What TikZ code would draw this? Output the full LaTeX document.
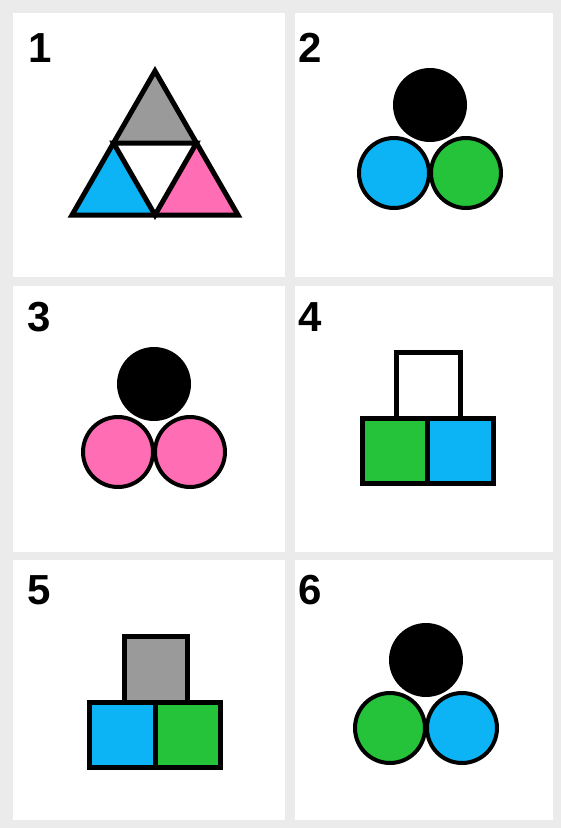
\documentclass[tikz,border=0pt]{standalone}
\usepackage{fontspec}
\setmainfont{Liberation Sans}
\definecolor{figBack}{HTML}{EBEBEB}
\definecolor{figBlue}{HTML}{0DB4F5}
\definecolor{figGreen}{HTML}{24C33A}
\definecolor{figPink}{HTML}{FF6EB4}
\definecolor{figGray}{HTML}{9A9A9A}
\usepackage{tikz}
\usetikzlibrary{positioning, calc}

\begin{document}
\begin{tikzpicture}[x=1pt, y=-1pt,
  panel/.style={fill=white, draw=none},
  num/.style={anchor=base west, inner sep=0pt, font=\fontsize{42}{42}\selectfont\bfseries},
  part/.style={draw=black, line width=5pt, line join=miter},
  ball/.style={draw=black, line width=4pt}]
  \useasboundingbox[fill=figBack] (0,0) rectangle (561,828);
  % panels
  \fill[panel] (13,13) rectangle (285,277);
  \fill[panel] (295,13) rectangle (553,277);
  \fill[panel] (13,286) rectangle (285,552);
  \fill[panel] (295,286) rectangle (553,552);
  \fill[panel] (13,560) rectangle (285,820);
  \fill[panel] (295,560) rectangle (553,820);
  % labels
  \node[num] (lab1) at (28,62) {1};
  \node[num] (lab2) at (298,62) {2};
  \node[num] (lab3) at (27,331) {3};
  \node[num] (lab4) at (298,331) {4};
  \node[num] (lab5) at (27,604) {5};
  \node[num] (lab6) at (298,604) {6};
  % 1: triangle
  \coordinate (top) at (155,71);
  \coordinate (bl) at (72,215);
  \coordinate (br) at (238,215);
  \coordinate (ml) at ($(top)!0.5!(bl)$);
  \coordinate (mr) at ($(top)!0.5!(br)$);
  \coordinate (mb) at ($(bl)!0.5!(br)$);
  \fill[figGray] (top) -- (ml) -- (mr) -- cycle;
  \fill[figBlue] (ml) -- (bl) -- (mb) -- cycle;
  \fill[figPink] (mr) -- (mb) -- (br) -- cycle;
  \draw[part] (ml) -- (mr) -- (mb) -- cycle;
  \draw[part] (top) -- (bl) -- (br) -- cycle;
  % 2: balls
  \filldraw[ball, fill=black] (430,105) circle (35);
  \filldraw[ball, fill=figBlue] (394,173) circle (35);
  \filldraw[ball, fill=figGreen] (466,173) circle (35);
  % 3: balls
  \filldraw[ball, fill=black] (154,384) circle (35);
  \filldraw[ball, fill=figPink] (118,452) circle (35);
  \filldraw[ball, fill=figPink] (190,452) circle (35);
  % 4: blocks
  \filldraw[part, fill=white] (396,352) rectangle (460,418);
  \filldraw[part, fill=figGreen] (362,418) rectangle (427.5,483);
  \filldraw[part, fill=figBlue] (427.5,418) rectangle (493,483);
  % 5: blocks
  \filldraw[part, fill=figGray] (124.5,636) rectangle (187.5,702);
  \filldraw[part, fill=figBlue] (89.5,702) rectangle (155,767.5);
  \filldraw[part, fill=figGreen] (155,702) rectangle (220.5,767.5);
  % 6: balls
  \filldraw[ball, fill=black] (426,660) circle (35);
  \filldraw[ball, fill=figGreen] (390,728) circle (35);
  \filldraw[ball, fill=figBlue] (462,728) circle (35);
\end{tikzpicture}
\end{document}
